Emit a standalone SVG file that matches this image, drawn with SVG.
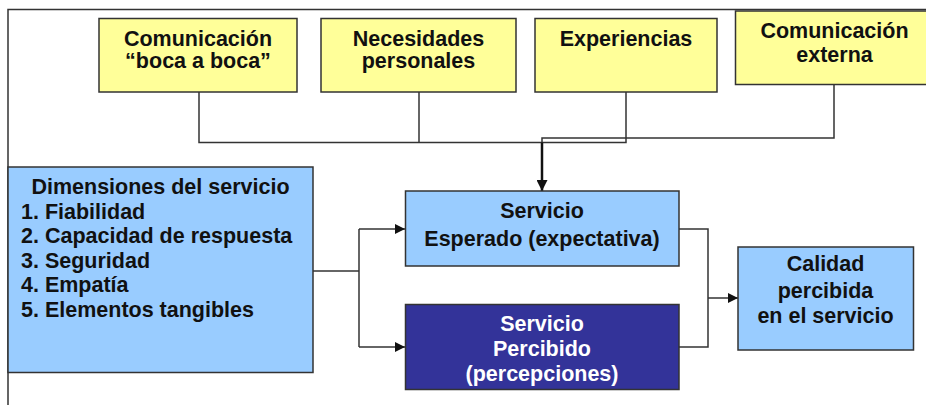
<svg xmlns="http://www.w3.org/2000/svg" width="926" height="405" viewBox="0 0 926 405">
<style>
.box{stroke:#333;stroke-width:1.5}
.y{fill:#ffff99}
.b{fill:#99ccff}
.d{fill:#333399}
text{font-family:"Liberation Sans",Arial,sans-serif;font-weight:bold;font-size:21.5px;fill:#111}
.c{text-anchor:middle}
.w{fill:#fff}
.ln{fill:none;stroke:#333;stroke-width:1.5}
</style>
<defs>
<marker id="ah" viewBox="0 0 10 10" refX="10" refY="5" markerWidth="10" markerHeight="10" markerUnits="userSpaceOnUse" orient="auto">
<path d="M0,0 L10,5 L0,10 z" fill="#111"/>
</marker>
<marker id="ah2" viewBox="0 0 10 10" refX="10" refY="5" markerWidth="11" markerHeight="11" markerUnits="userSpaceOnUse" orient="auto">
<path d="M0,0 L10,5 L0,10 z" fill="#111"/>
</marker>
</defs>
<rect width="926" height="405" fill="#fff"/>
<path d="M8,420 L8,9.5 L940,9.5" fill="none" stroke="#333" stroke-width="1.5"/>
<g id="connectors">
<path class="ln" d="M199,92 V142.5 H542"/>
<path class="ln" d="M419,92 V142.5"/>
<path class="ln" d="M626,92 V142.5 H542"/>
<path class="ln" d="M834,85 V138 H542 V142.5"/>
<path d="M542,142.5 V191" fill="none" stroke="#111" stroke-width="2.5" marker-end="url(#ah2)"/>
<path class="ln" d="M313,271 H359"/>
<path class="ln" d="M359,229 V347"/>
<path class="ln" d="M359,229 H405" marker-end="url(#ah)"/>
<path class="ln" d="M359,347 H405" marker-end="url(#ah)"/>
<path class="ln" d="M679,229 H708 V347 H679"/>
<path class="ln" d="M708,298 H738" marker-end="url(#ah)"/>
</g>
<g id="n1"><rect class="box y" x="99" y="18.5" width="198" height="73.5"/><text class="c" x="198" y="45.5">Comunicación</text><text class="c" x="198" y="67.5">“boca a boca”</text></g>
<g id="n2"><rect class="box y" x="321" y="18.5" width="195" height="73.5"/><text class="c" x="418.5" y="45.5">Necesidades</text><text class="c" x="418.5" y="67.5">personales</text></g>
<g id="n3"><rect class="box y" x="535" y="18.5" width="182" height="73.5"/><text class="c" x="626" y="45.5">Experiencias</text></g>
<g id="n4"><rect class="box y" x="735.5" y="11" width="200" height="73.5"/><text class="c" x="834.5" y="37.5">Comunicación</text><text class="c" x="834.5" y="61.5">externa</text></g>
<g id="n5"><rect class="box b" x="8" y="167" width="305" height="205.5"/>
<text class="c" x="160.5" y="194">Dimensiones del servicio</text>
<text x="21" y="218.5">1. Fiabilidad</text>
<text x="21" y="243">2. Capacidad de respuesta</text>
<text x="21" y="267.5">3. Seguridad</text>
<text x="21" y="292">4. Empatía</text>
<text x="21" y="316.5">5. Elementos tangibles</text></g>
<g id="n6"><rect class="box b" x="405.5" y="191" width="273.5" height="75"/><text class="c" x="542" y="217.5">Servicio</text><text class="c" x="542" y="246">Esperado (expectativa)</text></g>
<g id="n7"><rect class="box d" x="405.5" y="304.5" width="273.5" height="85"/><text class="c w" x="542" y="331">Servicio</text><text class="c w" x="542" y="355.5">Percibido</text><text class="c w" x="542" y="381">(percepciones)</text></g>
<g id="n8"><rect class="box b" x="738" y="247" width="175.5" height="103"/><text class="c" x="825.5" y="271">Calidad</text><text class="c" x="825.5" y="297.5">percibida</text><text class="c" x="825.5" y="322.5">en el servicio</text></g>
</svg>
